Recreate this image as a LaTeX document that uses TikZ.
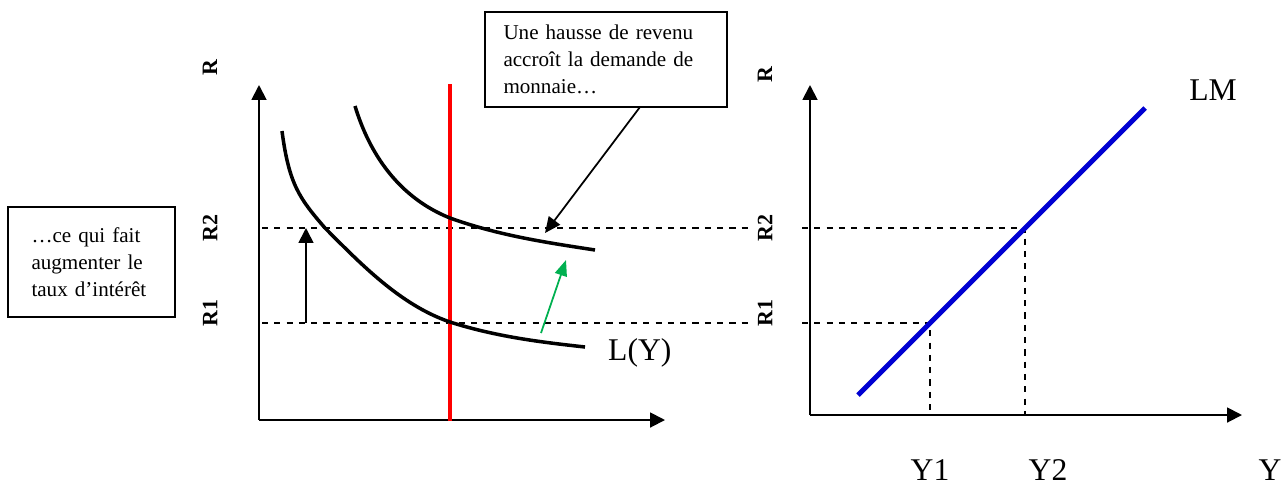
\documentclass[tikz,border=0pt]{standalone}
\usepackage{fontspec}
\setmainfont{Liberation Serif}
\usetikzlibrary{arrows.meta}
\begin{document}
\begin{tikzpicture}[x=0.02cm,y=-0.02cm,
  axis/.style={line width=1.1pt,-{Triangle[length=8.5pt,width=8.5pt]}},
  guide/.style={line width=0.6pt,dash pattern=on 3.5pt off 3.5pt},
  curve/.style={line width=2pt},
  boxnote/.style={draw,line width=0.8pt,align=left,font=\fontsize{12}{15.5}\selectfont,inner sep=0pt},
  rlab/.style={font=\bfseries\fontsize{12.5}{14}\selectfont,rotate=90},
  big/.style={font=\fontsize{18}{20}\selectfont},
  ptr/.style={line width=1pt,-{Triangle[length=9pt,width=8pt]}}]
\useasboundingbox (0,0) rectangle (1285,485);
% left panel axes
\coordinate (o1) at (259,420);
\coordinate (t1) at (259,85);
\coordinate (e1) at (665,420);
\draw[axis] (o1) -- (t1);
\draw[axis] (o1) -- (e1);
\node[rlab] (lr) at (210,68) {R};
\node[rlab] (lr2) at (210,228) {R2};
\node[rlab] (lr1) at (210,313) {R1};
% guides
\coordinate (g2a) at (262,228);
\coordinate (g2b) at (750,228);
\coordinate (g1a) at (262,323);
\coordinate (g1b) at (750,323);
\draw[guide] (g2a) -- (g2b);
\draw[guide] (g1a) -- (g1b);
% red line
\coordinate (rt) at (450,84);
\coordinate (rb) at (450,421);
\draw[red,line width=2.8pt] (rt) -- (rb);
% curves
\draw[curve] (282,131) .. controls (289,185) and (300,199) .. (325,228)
  .. controls (360,263) and (400,305) .. (450,322)
  .. controls (500,338) and (550,343) .. (585,347);
\draw[curve] (355,106) .. controls (372,162) and (405,200) .. (450,218)
  .. controls (500,236) and (550,243) .. (595,250);
% vertical arrow
\coordinate (va) at (306,323);
\coordinate (vb) at (306,228);
\draw[line width=1pt,-{Triangle[length=8.5pt,width=8.5pt]}] (va) -- (vb);
% green arrow
\coordinate (ga) at (541,333);
\coordinate (gb) at (566,260);
\draw[line width=1pt,color={rgb,255:red,0;green,176;blue,80},-{Triangle[length=9pt,width=7pt]}] (ga) -- (gb);
% L(Y)
\node[big,anchor=west] (ly) at (602,353) {L(Y)};
% top box
\node[boxnote,minimum width=242*0.02cm,minimum height=95*0.02cm,text width=205*0.02cm] (tb) at (606,59.5) {Une hausse de revenu\\accroît la demande de\\monnaie…};
\coordinate (tip) at (545,233);
\draw[ptr] (640,107) -- (tip);
% left box
\node[boxnote,minimum width=167*0.02cm,minimum height=110*0.02cm,text width=120*0.02cm] (lb) at (91.5,262) {…ce qui fait\\augmenter le\\taux d’intérêt};
% right panel
\coordinate (o2) at (810,415);
\coordinate (t2) at (810,85);
\coordinate (e2) at (1242,415);
\draw[axis] (o2) -- (t2);
\draw[axis] (o2) -- (e2);
\node[rlab] (rr) at (765,75) {R};
\node[rlab] (rr2) at (765,228) {R2};
\node[rlab] (rr1) at (765,313) {R1};
\coordinate (p1) at (930,323);
\coordinate (p2) at (1025,228);
\coordinate (q1) at (930,415);
\coordinate (q2) at (1025,415);
\coordinate (s1) at (802,323);
\coordinate (s2) at (802,228);
\draw[guide] (s2) -- (p2) -- (q2);
\draw[guide] (s1) -- (p1) -- (q1);
\coordinate (lma) at (858,395);
\coordinate (lmb) at (1145,108);
\draw[line width=2.8pt,color={rgb,255:red,0;green,0;blue,210}] (lma) -- (lmb);
\node[big] (lm) at (1213,90) {LM};
\node[big] (y1) at (930,470) {Y1};
\node[big] (y2) at (1048,470) {Y2};
\node[big] (yy) at (1270,470) {Y};
\end{tikzpicture}
\end{document}
